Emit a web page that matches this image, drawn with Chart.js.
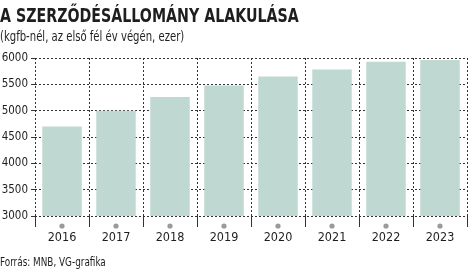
<!DOCTYPE html>
<html>
<head>
<meta charset="utf-8">
<script src="https://cdn.jsdelivr.net/npm/chart.js@4/dist/chart.umd.min.js"></script>
<style>
  html, body { margin: 0; padding: 0; background: #fff; }
  #wrap { position: relative; width: 474px; height: 273px; overflow: hidden; font-family: "DejaVu Sans Condensed", sans-serif; color: #1e1e1e; }
  .txt { position: absolute; left: 0; white-space: nowrap; transform-origin: 0 0; }
  #title { top: 4px; font-size: 19.5px; font-weight: bold; transform: scaleX(0.81); }
  #sub { top: 28px; font-size: 14px; transform: scaleX(0.8); }
  #src { top: 255px; font-size: 12px; transform: scaleX(0.82); }
  canvas { position: absolute; left: 0; top: 0; }
</style>
</head>
<body>
<div id="wrap">
  <canvas id="myChart" width="474" height="273"></canvas>
  <div class="txt" id="title">A SZERZŐDÉSÁLLOMÁNY ALAKULÁSA</div>
  <div class="txt" id="sub">(kgfb-nél, az első fél év végén, ezer)</div>
  <div class="txt" id="src">Forrás: MNB, VG-grafika</div>
</div>
<script>
// data
const years = ["2016", "2017", "2018", "2019", "2020", "2021", "2022", "2023"];
const contracts = [4700, 5000, 5260, 5480, 5650, 5780, 5930, 5960];
const yMin = 3000;
const yMax = 6000;
const yStep = 500;

const font = "'DejaVu Sans Condensed', sans-serif";

// little grey dots under each category
const dotPlugin = {
  id: "dots",
  afterDraw(chart) {
    const ctx = chart.ctx;
    const x = chart.scales.x;
    const y = chart.chartArea.bottom + 10;
    ctx.save();
    ctx.fillStyle = "#9a9a9a";
    years.forEach((_, i) => {
      ctx.beginPath();
      ctx.arc(x.getPixelForValue(i), y, 2.6, 0, Math.PI * 2);
      ctx.fill();
    });
    ctx.restore();
  },
};

const ctx = document.getElementById("myChart");

new Chart(ctx, {
  type: "bar",
  data: {
    labels: years,
    datasets: [
      {
        data: contracts,
        backgroundColor: "#bfd8d1",
        categoryPercentage: 0.73,
        barPercentage: 1,
        borderWidth: 0,
      },
    ],
  },
  plugins: [dotPlugin],
  options: {
    responsive: false,
    animation: false,
    layout: { padding: { top: 58, right: 7, left: 0, bottom: 0 } },
    plugins: {
      legend: { display: false },
      tooltip: { enabled: false },
    },
    scales: {
      x: {
        afterFit: (scale) => { scale.height = 57; },
        grid: {
          offset: true,
          color: "#333",
          lineWidth: 1,
          tickLength: 11,
        },
        border: { display: false, dash: [2, 2] },
        ticks: {
          color: "#1e1e1e",
          font: { family: font, size: 12.5 },
          padding: 3,
        },
      },
      y: {
        min: yMin,
        max: yMax,
        afterFit: (scale) => { scale.width = 35; },
        grid: {
          color: "#333",
          lineWidth: 1,
          tickLength: 4,
        },
        border: { display: false, dash: [2, 2] },
        ticks: {
          stepSize: yStep,
          color: "#1e1e1e",
          font: { family: font, size: 11.5 },
          padding: 3,
          callback: (v) => String(v),
        },
      },
    },
  },
});
</script>
</body>
</html>
